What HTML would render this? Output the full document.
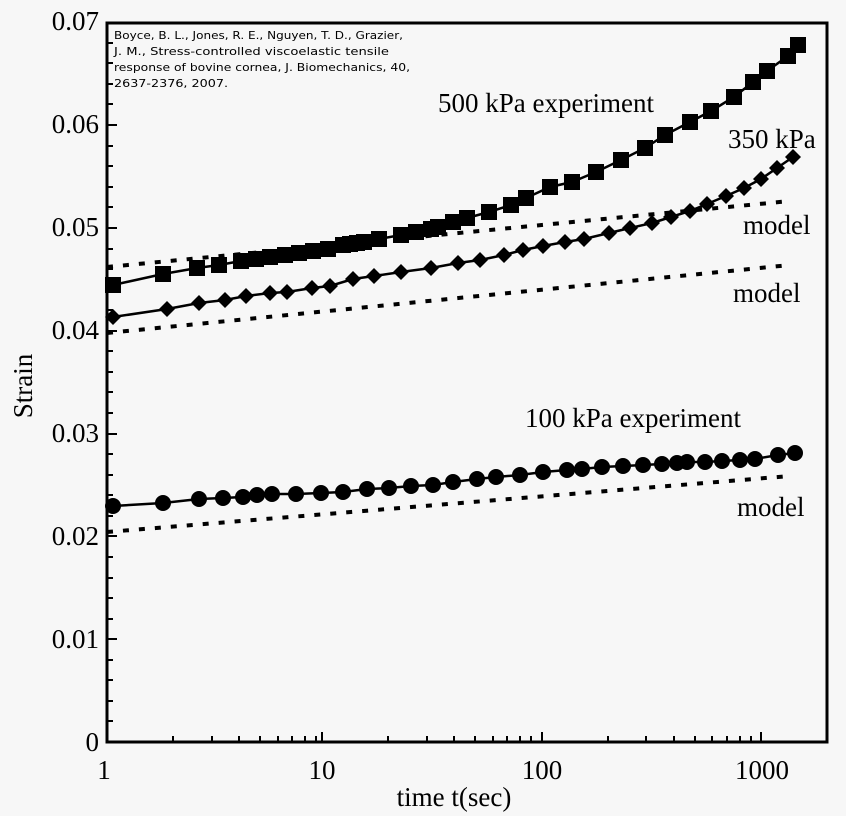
<!DOCTYPE html>
<html><head><style>
html,body{margin:0;padding:0;background:#f7f7f7;}
svg{display:block;}
</style></head><body>
<svg width="846" height="816" viewBox="0 0 846 816" xmlns="http://www.w3.org/2000/svg">
<rect width="846" height="816" fill="#f7f7f7"/>
<g stroke="#000" stroke-width="3" fill="none">
<rect x="107" y="23" width="720" height="719"/>
</g>
<g stroke="#000" stroke-width="2">
<path d="M107 742h10M107 639h10M107 536h10M107 434h10M107 331h10M107 228h10M107 125h10
M107 721h6M107 701h6M107 680h6M107 660h6M107 619h6M107 598h6M107 578h6M107 557h6M107 516h6M107 495h6M107 475h6M107 454h6M107 413h6M107 392h6M107 372h6M107 351h6M107 310h6M107 290h6M107 269h6M107 249h6M107 207h6M107 187h6M107 166h6M107 146h6M107 104h6M107 84h6M107 63h6M107 43h6"/>
<path d="M322 742v-10M542 742v-10M761 742v-10
M173 742v-6M212 742v-6M239 742v-6M260 742v-6M278 742v-6M292 742v-6M305 742v-6M316 742v-6
M388 742v-6M427 742v-6M454 742v-6M475 742v-6M493 742v-6M507 742v-6M520 742v-6M531 742v-6
M608 742v-6M646 742v-6M674 742v-6M695 742v-6M712 742v-6M727 742v-6M740 742v-6M751 742v-6"/>
</g>
<g font-family="'Liberation Serif',serif" font-size="27" fill="#000">
<g text-anchor="end">
<text x="99" y="751">0</text><text x="99" y="648">0.01</text><text x="99" y="545">0.02</text><text x="99" y="442">0.03</text><text x="99" y="339">0.04</text><text x="99" y="236">0.05</text><text x="99" y="133">0.06</text><text x="99" y="30">0.07</text>
</g>
<g text-anchor="middle">
<text x="104" y="779">1</text><text x="322" y="779">10</text><text x="542" y="779">100</text><text x="762" y="779">1000</text>
<text x="454" y="806">time t(sec)</text>
<text transform="translate(32,386) rotate(-90)">Strain</text>
</g>
<text x="438" y="112">500 kPa experiment</text>
<text x="728" y="148">350 kPa</text>
<text x="743" y="234">model</text>
<text x="733" y="302">model</text>
<text x="525" y="427">100 kPa experiment</text>
<text x="737" y="516">model</text>
</g>
<g font-family="'DejaVu Sans','Liberation Sans',sans-serif" font-size="11" fill="#000">
<text x="114" y="39" textLength="289" lengthAdjust="spacingAndGlyphs">Boyce, B. L., Jones, R. E., Nguyen, T. D., Grazier,</text>
<text x="114" y="55" textLength="275" lengthAdjust="spacingAndGlyphs">J. M., Stress-controlled viscoelastic tensile</text>
<text x="114" y="71" textLength="296" lengthAdjust="spacingAndGlyphs">response of bovine cornea, J. Biomechanics, 40,</text>
<text x="114" y="87" textLength="114" lengthAdjust="spacingAndGlyphs">2637-2376, 2007.</text>
</g>
<g stroke="#000" stroke-width="4" stroke-dasharray="6 10" fill="none">
<path d="M107 267L790 201"/>
<path d="M107 333L790 265"/>
<path d="M107 532L790 476"/>
</g>
<path fill="none" stroke="#000" stroke-width="2.5" d="M113 285L163 274L197 268L219 265L241 261L256 259L270 257L285 255L299 253L313 251L328 249L343 245L357 243L379 239L401 235L416 232L431 229L453 222L467 218L489 212L511 205L526 198L550 187L572 182L596 172L621 160L645 148L665 135L690 122L711 111L734 97L753 82L767 71L788 56L798 45"/>
<g fill="#000">
<path d="M105 277h16v16h-16zM155 266h16v16h-16zM189 260h16v16h-16zM211 257h16v16h-16zM233 253h16v16h-16zM248 251h16v16h-16zM262 249h16v16h-16zM277 247h16v16h-16zM291 245h16v16h-16zM305 243h16v16h-16zM320 241h16v16h-16zM335 237h16v16h-16zM342 236h16v16h-16zM349 235h16v16h-16zM356 234h16v16h-16zM371 231h16v16h-16zM393 227h16v16h-16zM408 224h16v16h-16zM423 221h16v16h-16zM430 219h16v16h-16zM445 214h16v16h-16zM459 210h16v16h-16zM481 204h16v16h-16zM503 197h16v16h-16zM518 190h16v16h-16zM542 179h16v16h-16zM564 174h16v16h-16zM588 164h16v16h-16zM613 152h16v16h-16zM637 140h16v16h-16zM657 127h16v16h-16zM682 114h16v16h-16zM703 103h16v16h-16zM726 89h16v16h-16zM745 74h16v16h-16zM759 63h16v16h-16zM780 48h16v16h-16zM790 37h16v16h-16z"/>
</g>
<path fill="none" stroke="#000" stroke-width="2.5" d="M113 317L167 309L199 303L225 300L246 296L270 293L287 292L312 288L330 286L353 279L374 276L401 272L431 268L458 263L480 260L504 255L523 250L543 246L565 242L584 239L609 233L630 228L652 223L671 217L690 211L707 204L726 196L744 188L761 179L777 168L793 157"/>
<g fill="#000">
<path d="M113 309l8 8-8 8-8-8zM167 301l8 8-8 8-8-8zM199 295l8 8-8 8-8-8zM225 292l8 8-8 8-8-8zM246 288l8 8-8 8-8-8zM270 285l8 8-8 8-8-8zM287 284l8 8-8 8-8-8zM312 280l8 8-8 8-8-8zM330 278l8 8-8 8-8-8zM353 271l8 8-8 8-8-8zM374 268l8 8-8 8-8-8zM401 264l8 8-8 8-8-8zM431 260l8 8-8 8-8-8zM458 255l8 8-8 8-8-8zM480 252l8 8-8 8-8-8zM504 247l8 8-8 8-8-8zM523 242l8 8-8 8-8-8zM543 238l8 8-8 8-8-8zM565 234l8 8-8 8-8-8zM584 231l8 8-8 8-8-8zM609 225l8 8-8 8-8-8zM630 220l8 8-8 8-8-8zM652 215l8 8-8 8-8-8zM671 209l8 8-8 8-8-8zM690 203l8 8-8 8-8-8zM707 196l8 8-8 8-8-8zM726 188l8 8-8 8-8-8zM744 180l8 8-8 8-8-8zM761 171l8 8-8 8-8-8zM777 160l8 8-8 8-8-8zM793 149l8 8-8 8-8-8z"/>
</g>
<path fill="none" stroke="#000" stroke-width="2.5" d="M113 506L163 503L199 499L223 498L243 497L257 495L272 494L296 494L321 493L343 492L367 489L389 488L411 486L433 485L453 482L477 479L496 477L520 475L543 472L567 470L582 469L602 467L623 466L643 465L662 464L677 463L687 462L705 462L722 461L740 460L755 459L778 455L795 453"/>
<g fill="#000">
<circle cx="113" cy="506" r="8"/><circle cx="163" cy="503" r="8"/><circle cx="199" cy="499" r="8"/><circle cx="223" cy="498" r="8"/><circle cx="243" cy="497" r="8"/><circle cx="257" cy="495" r="8"/><circle cx="272" cy="494" r="8"/><circle cx="296" cy="494" r="8"/><circle cx="321" cy="493" r="8"/><circle cx="343" cy="492" r="8"/><circle cx="367" cy="489" r="8"/><circle cx="389" cy="488" r="8"/><circle cx="411" cy="486" r="8"/><circle cx="433" cy="485" r="8"/><circle cx="453" cy="482" r="8"/><circle cx="477" cy="479" r="8"/><circle cx="496" cy="477" r="8"/><circle cx="520" cy="475" r="8"/><circle cx="543" cy="472" r="8"/><circle cx="567" cy="470" r="8"/><circle cx="582" cy="469" r="8"/><circle cx="602" cy="467" r="8"/><circle cx="623" cy="466" r="8"/><circle cx="643" cy="465" r="8"/><circle cx="662" cy="464" r="8"/><circle cx="677" cy="463" r="8"/><circle cx="687" cy="462" r="8"/><circle cx="705" cy="462" r="8"/><circle cx="722" cy="461" r="8"/><circle cx="740" cy="460" r="8"/><circle cx="755" cy="459" r="8"/><circle cx="778" cy="455" r="8"/><circle cx="795" cy="453" r="8"/>
</g>
</svg>
</body></html>
